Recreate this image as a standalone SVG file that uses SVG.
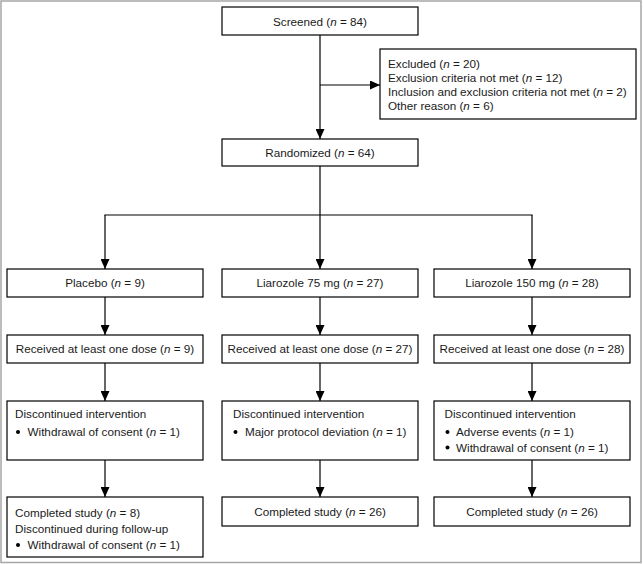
<svg xmlns="http://www.w3.org/2000/svg" width="643" height="564" viewBox="0 0 643 564">
<defs>
<marker id="ah" markerUnits="userSpaceOnUse" markerWidth="10" markerHeight="9" refX="10" refY="4.5" orient="auto">
<path d="M0,0 L10,4.5 L0,9 z" fill="#000"/>
</marker>
<style>
.box{fill:#fff;stroke:#000;stroke-width:1.2}
.t{font-family:"Liberation Sans",Arial,sans-serif;font-size:11.7px;fill:#1a1a1a}
.c{text-anchor:middle}
.i{font-style:italic}
.ln{fill:none;stroke:#000;stroke-width:1.2}
</style>
</defs>
<rect x="1" y="1" width="640" height="561.5" fill="#fff" stroke="#a6a6a6" stroke-width="1.5"/>
<g id="connectors">
<line class="ln" x1="320" y1="35" x2="320" y2="139" marker-end="url(#ah)"/>
<line class="ln" x1="320" y1="85" x2="380" y2="85" marker-end="url(#ah)"/>
<line class="ln" x1="320" y1="166" x2="320" y2="269" marker-end="url(#ah)"/>
<line class="ln" x1="104.4" y1="215" x2="532.6" y2="215"/>
<line class="ln" x1="105" y1="215" x2="105" y2="269" marker-end="url(#ah)"/>
<line class="ln" x1="532" y1="215" x2="532" y2="269" marker-end="url(#ah)"/>
<line class="ln" x1="105" y1="297" x2="105" y2="335" marker-end="url(#ah)"/>
<line class="ln" x1="320" y1="297" x2="320" y2="335" marker-end="url(#ah)"/>
<line class="ln" x1="532" y1="297" x2="532" y2="335" marker-end="url(#ah)"/>
<line class="ln" x1="105" y1="363" x2="105" y2="401" marker-end="url(#ah)"/>
<line class="ln" x1="320" y1="363" x2="320" y2="401" marker-end="url(#ah)"/>
<line class="ln" x1="532" y1="363" x2="532" y2="401" marker-end="url(#ah)"/>
<line class="ln" x1="105" y1="460" x2="105" y2="497" marker-end="url(#ah)"/>
<line class="ln" x1="320" y1="460" x2="320" y2="497" marker-end="url(#ah)"/>
<line class="ln" x1="532" y1="460" x2="532" y2="497" marker-end="url(#ah)"/>
</g>
<g id="screened">
<rect class="box" x="222" y="7" width="196" height="28"/>
<text class="t c" x="320" y="25.5">Screened (<tspan class="i">n</tspan> = 84)</text>
</g>
<g id="excluded">
<rect class="box" x="380" y="49" width="256" height="70"/>
<text class="t" x="388" y="67.5">Excluded (<tspan class="i">n</tspan> = 20)</text>
<text class="t" x="388" y="81.5">Exclusion criteria not met (<tspan class="i">n</tspan> = 12)</text>
<text class="t" x="388" y="95.8">Inclusion and exclusion criteria not met (<tspan class="i">n</tspan> = 2)</text>
<text class="t" x="388" y="110">Other reason (<tspan class="i">n</tspan> = 6)</text>
</g>
<g id="randomized">
<rect class="box" x="222" y="139" width="196" height="27"/>
<text class="t c" x="320" y="156.5">Randomized (<tspan class="i">n</tspan> = 64)</text>
</g>
<g id="placebo">
<rect class="box" x="7" y="269" width="196" height="28"/>
<text class="t c" x="105" y="287">Placebo (<tspan class="i">n</tspan> = 9)</text>
</g>
<g id="liar75">
<rect class="box" x="222" y="269" width="196" height="28"/>
<text class="t c" x="320" y="287">Liarozole 75 mg (<tspan class="i">n</tspan> = 27)</text>
</g>
<g id="liar150">
<rect class="box" x="434" y="269" width="196" height="28"/>
<text class="t c" x="532" y="287">Liarozole 150 mg (<tspan class="i">n</tspan> = 28)</text>
</g>
<g id="recv1">
<rect class="box" x="7" y="335" width="196" height="28"/>
<text class="t c" x="105" y="353">Received at least one dose (<tspan class="i">n</tspan> = 9)</text>
</g>
<g id="recv2">
<rect class="box" x="222" y="335" width="196" height="28"/>
<text class="t c" x="320" y="353">Received at least one dose (<tspan class="i">n</tspan> = 27)</text>
</g>
<g id="recv3">
<rect class="box" x="434" y="335" width="196" height="28"/>
<text class="t c" x="532" y="353">Received at least one dose (<tspan class="i">n</tspan> = 28)</text>
</g>
<g id="disc1">
<rect class="box" x="7" y="401" width="196" height="59"/>
<text class="t" x="15" y="418">Discontinued intervention</text>
<circle cx="18" cy="432" r="2"/>
<text class="t" x="27.5" y="436">Withdrawal of consent (<tspan class="i">n</tspan> = 1)</text>
</g>
<g id="disc2">
<rect class="box" x="222" y="401" width="196" height="59"/>
<text class="t" x="233" y="418">Discontinued intervention</text>
<circle cx="235.5" cy="432" r="2"/>
<text class="t" x="245" y="436">Major protocol deviation (<tspan class="i">n</tspan> = 1)</text>
</g>
<g id="disc3">
<rect class="box" x="434" y="401" width="196" height="59"/>
<text class="t" x="444.5" y="418">Discontinued intervention</text>
<circle cx="447.5" cy="432" r="2"/>
<text class="t" x="456" y="436">Adverse events (<tspan class="i">n</tspan> = 1)</text>
<circle cx="447.5" cy="447.5" r="2"/>
<text class="t" x="456" y="452">Withdrawal of consent (<tspan class="i">n</tspan> = 1)</text>
</g>
<g id="comp1">
<rect class="box" x="7" y="497" width="196" height="60"/>
<text class="t" x="15" y="516.5">Completed study (<tspan class="i">n</tspan> = 8)</text>
<text class="t" x="15" y="532.5">Discontinued during follow-up</text>
<circle cx="18" cy="545" r="2"/>
<text class="t" x="27.5" y="549">Withdrawal of consent (<tspan class="i">n</tspan> = 1)</text>
</g>
<g id="comp2">
<rect class="box" x="222" y="497" width="196" height="29"/>
<text class="t c" x="320" y="515.5">Completed study (<tspan class="i">n</tspan> = 26)</text>
</g>
<g id="comp3">
<rect class="box" x="434" y="497" width="196" height="29"/>
<text class="t c" x="532" y="515.5">Completed study (<tspan class="i">n</tspan> = 26)</text>
</g>
</svg>
